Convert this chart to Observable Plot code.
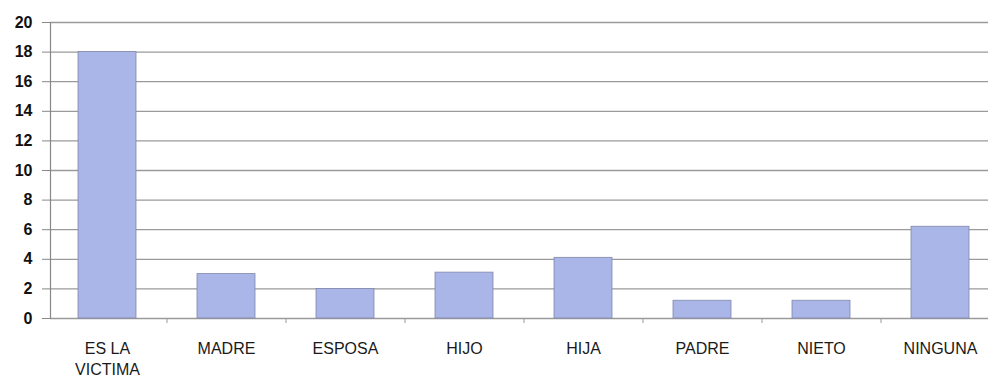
<!DOCTYPE html>
<html>
<head>
<meta charset="utf-8">
<script src="https://cdn.jsdelivr.net/npm/d3@7"></script>
<script src="https://cdn.jsdelivr.net/npm/@observablehq/plot@0.6"></script>
<style>
  html, body { margin: 0; padding: 0; background: #fff; }
  svg { display: block; }
</style>
</head>
<body>
<div id="chart"></div>
<script>
const categories = ["ES LA VICTIMA", "MADRE", "ESPOSA", "HIJO", "HIJA", "PADRE", "NIETO", "NINGUNA"];
const values = [18, 3, 2, 3.1, 4.1, 1.2, 1.2, 6.2];
const yTicks = [0, 2, 4, 6, 8, 10, 12, 14, 16, 18, 20];
const labelText = {"ES LA VICTIMA": "ES LA\nVICTIMA"};

const data = categories.map((c, i) => ({cat: c, value: values[i]}));

const W = 988, H = 377, mL = 50, mR = 0, mT = 22, mB = 59;
const xRange = [48, 1000];
const step = (xRange[1] - xRange[0]) / categories.length;

const chart = Plot.plot({
  width: W,
  height: H,
  marginLeft: mL,
  marginRight: mR,
  marginTop: mT,
  marginBottom: mB,
  style: {fontFamily: "Liberation Sans, Arial, sans-serif", background: "#fff", overflow: "hidden"},
  x: {domain: categories, range: xRange, paddingInner: 0.51, paddingOuter: 0.255, align: 0.5},
  y: {domain: [0, 20]},
  marks: [
    Plot.ruleY(yTicks, {stroke: "#9a9a9a", strokeWidth: 1.3}),
    Plot.barY(data, {x: "cat", y: "value", fill: "#aab5e8", stroke: "#8088aa", strokeWidth: 0.8}),
    Plot.axisY({ticks: yTicks, tickSize: 8, tickPadding: 10, fontSize: 16, fontWeight: "bold", fill: "#111", stroke: "#888", label: null}),
    Plot.axisX({ticks: categories.slice(0, -1), tickSize: 5, tickFormat: () => "", stroke: "#999", dx: step / 2, label: null}),
    Plot.axisX({tickSize: 0, tickPadding: 20, fontSize: 16, fill: "#1a1a1a", tickFormat: d => labelText[d] || d, label: null, lineHeight: 1.35, style: {letterSpacing: "1px"}}),
    Plot.frame({anchor: "left", stroke: "#888", strokeWidth: 1.2})
  ]
});

document.getElementById("chart").appendChild(chart);
</script>
</body>
</html>
